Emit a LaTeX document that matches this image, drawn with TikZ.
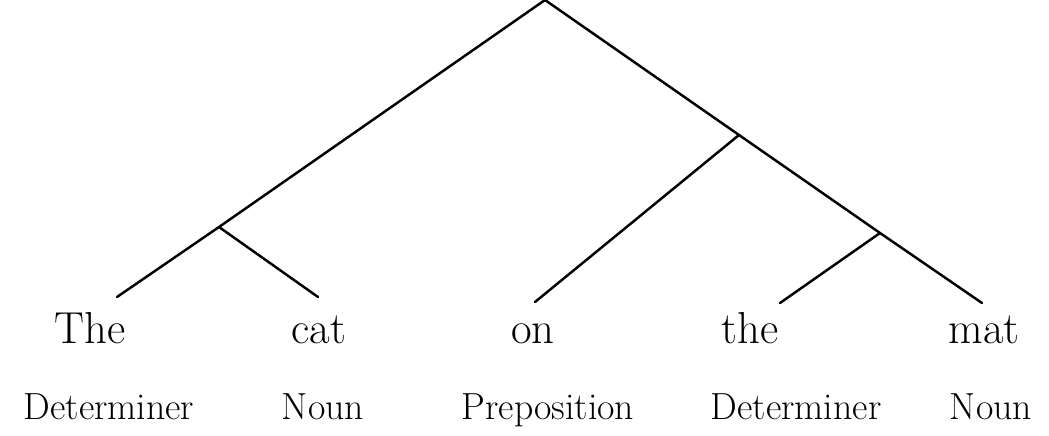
\documentclass[tikz,border=0pt]{standalone}
\begin{document}
\begin{tikzpicture}[
    x=0.02cm, y=-0.02cm,
    branch/.style = {line width=1.4pt, line cap=round, line join=round},
    word/.style = {anchor=base, inner sep=0pt, font=\fontsize{25.5}{30}\selectfont},
    tag/.style = {anchor=base, inner sep=0pt, font=\fontsize{21.5}{26}\selectfont}
  ]
\useasboundingbox (0,0) rectangle (1049,436);
% the words and their parts of speech
\node[word] (w1) at (90,343) {The};
\node[word] (w2) at (319,343) {cat};
\node[word] (w3) at (533,343) {on};
\node[word] (w4) at (750,343) {the};
\node[word] (w5) at (984,343) {mat};
\node[tag] (t1) at (109,419) {Determiner};
\node[tag] (t2) at (323,419) {Noun};
\node[tag] (t3) at (548,419) {Preposition};
\node[tag] (t4) at (796,419) {Determiner};
\node[tag] (t5) at (991,419) {Noun};
% branches
\coordinate (root) at (545,0);
\coordinate (np) at (219,227);
\coordinate (pp) at (739,135);
\coordinate (dp) at (880,233);
\coordinate (e1) at (117,297);
\coordinate (e2) at (318,297);
\coordinate (e3) at (535,302);
\coordinate (e4) at (780,303);
\coordinate (e5) at (982,303);
\draw[branch] (root) -- (np) -- (e1);
\draw[branch] (root) -- (pp) -- (dp) -- (e5);
\draw[branch] (np) -- (e2);
\draw[branch] (pp) -- (e3);
\draw[branch] (dp) -- (e4);
\end{tikzpicture}
\end{document}
